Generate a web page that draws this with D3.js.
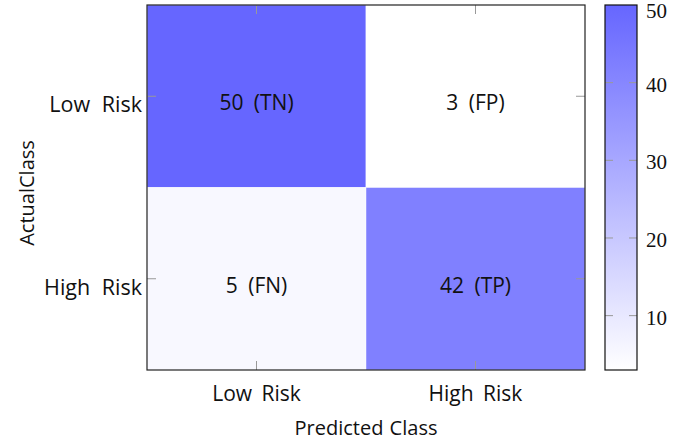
<!DOCTYPE html>
<html><head><meta charset="utf-8">
<script src="https://cdn.jsdelivr.net/npm/d3@7"></script>
<style>body{margin:0;background:#fff}svg{display:block}</style>
</head><body>
<svg id="c" width="682" height="440"></svg>
<script>
const predicted = ["Low Risk", "High Risk"];
const actual = ["Low Risk", "High Risk"];
const counts = [[50, 3], [5, 42]];
const cellLabels = [["TN", "FP"], ["FN", "TP"]];
const colorTicks = [10, 20, 30, 40, 50];

const svg = d3.select("#c");
const L = 147, R = 585, T = 5, B = 370;
const sans = "'Open Sans', sans-serif";

const flat = [];
counts.forEach((row, i) => row.forEach((v, j) => flat.push({i, j, v, lab: cellLabels[i][j]})));
const vmin = d3.min(flat, d => d.v), vmax = d3.max(flat, d => d.v);
const color = d3.scaleLinear().domain([vmin, vmax]).range(["#ffffff", "#6666ff"]);

const x = d3.scaleBand().domain(predicted).range([L, R]);
const y = d3.scaleBand().domain(actual).range([T, B]);

svg.append("g").selectAll("rect").data(flat).join("rect")
  .attr("x", d => x(predicted[d.j])).attr("y", d => y(actual[d.i]))
  .attr("width", x.bandwidth()).attr("height", y.bandwidth())
  .attr("fill", d => color(d.v))
  .attr("stroke", "rgba(255,255,255,0.45)").attr("stroke-width", 1);

svg.append("g").selectAll("text").data(flat).join("text")
  .attr("x", d => x(predicted[d.j]) + x.bandwidth() / 2)
  .attr("y", d => y(actual[d.i]) + y.bandwidth() / 2 + 14)
  .attr("text-anchor", "middle")
  .style("font-family", sans).style("font-size", "21px").style("word-spacing", "5px")
  .attr("fill", "#111")
  .text(d => `${d.v} (${d.lab})`);

// inner ticks on all sides
const tk = 9, tickCol = "#999";
const tg = svg.append("g").attr("stroke", tickCol).attr("stroke-width", 1);
predicted.forEach(p => {
  const cx = x(p) + x.bandwidth() / 2;
  tg.append("line").attr("x1", cx).attr("x2", cx).attr("y1", B).attr("y2", B - tk);
  tg.append("line").attr("x1", cx).attr("x2", cx).attr("y1", T).attr("y2", T + tk);
});
actual.forEach(a => {
  const cy = y(a) + y.bandwidth() / 2;
  tg.append("line").attr("y1", cy).attr("y2", cy).attr("x1", L).attr("x2", L + tk);
  tg.append("line").attr("y1", cy).attr("y2", cy).attr("x1", R).attr("x2", R - tk);
});

svg.append("rect").attr("x", L).attr("y", T).attr("width", R - L).attr("height", B - T)
  .attr("fill", "none").attr("stroke", "#222").attr("stroke-width", 1.2);

// tick labels
svg.append("g").selectAll("text").data(predicted).join("text")
  .attr("x", d => x(d) + x.bandwidth() / 2).attr("y", 401)
  .attr("text-anchor", "middle")
  .style("font-family", sans).style("font-size", "21px").style("word-spacing", "4px")
  .attr("fill", "#111").text(d => d);
svg.append("g").selectAll("text").data(actual).join("text")
  .attr("x", 142).attr("y", d => y(d) + y.bandwidth() / 2 + 16)
  .attr("text-anchor", "end")
  .style("font-family", sans).style("font-size", "21.5px").style("word-spacing", "6px")
  .attr("fill", "#111").text(d => d);

svg.append("text").attr("x", (L + R) / 2).attr("y", 435).attr("text-anchor", "middle")
  .style("font-family", sans).style("font-size", "20px").style("word-spacing", "1px")
  .attr("fill", "#111").text("Predicted Class");
svg.append("text").attr("transform", "translate(34,193) rotate(-90)").attr("text-anchor", "middle")
  .style("font-family", sans).style("font-size", "20px")
  .attr("fill", "#111").text("ActualClass");

// colorbar
const CL = 605, CR = 637;
const cy = d3.scaleLinear().domain([vmin, vmax]).range([B, T]);
const defs = svg.append("defs");
const grad = defs.append("linearGradient").attr("id", "cb").attr("x1", 0).attr("x2", 0).attr("y1", 1).attr("y2", 0);
grad.append("stop").attr("offset", 0).attr("stop-color", color(vmin));
grad.append("stop").attr("offset", 1).attr("stop-color", color(vmax));
svg.append("rect").attr("x", CL).attr("y", T).attr("width", CR - CL).attr("height", B - T).attr("fill", "url(#cb)");
const cg = svg.append("g").attr("stroke", tickCol).attr("stroke-width", 1);
colorTicks.filter(t => t < vmax).forEach(t => {
  cg.append("line").attr("x1", CL).attr("x2", CL + 8).attr("y1", cy(t)).attr("y2", cy(t));
  cg.append("line").attr("x1", CR).attr("x2", CR - 8).attr("y1", cy(t)).attr("y2", cy(t));
});
svg.append("rect").attr("x", CL).attr("y", T).attr("width", CR - CL).attr("height", B - T)
  .attr("fill", "none").attr("stroke", "#111").attr("stroke-width", 1.2);
svg.append("g").selectAll("text").data(colorTicks).join("text")
  .attr("x", 646).attr("y", t => Math.max(cy(t) + 9, 18))
  .style("font-family", "'Liberation Serif', serif").style("font-size", "21px")
  .attr("fill", "#111").text(t => t);
</script>
</body></html>
